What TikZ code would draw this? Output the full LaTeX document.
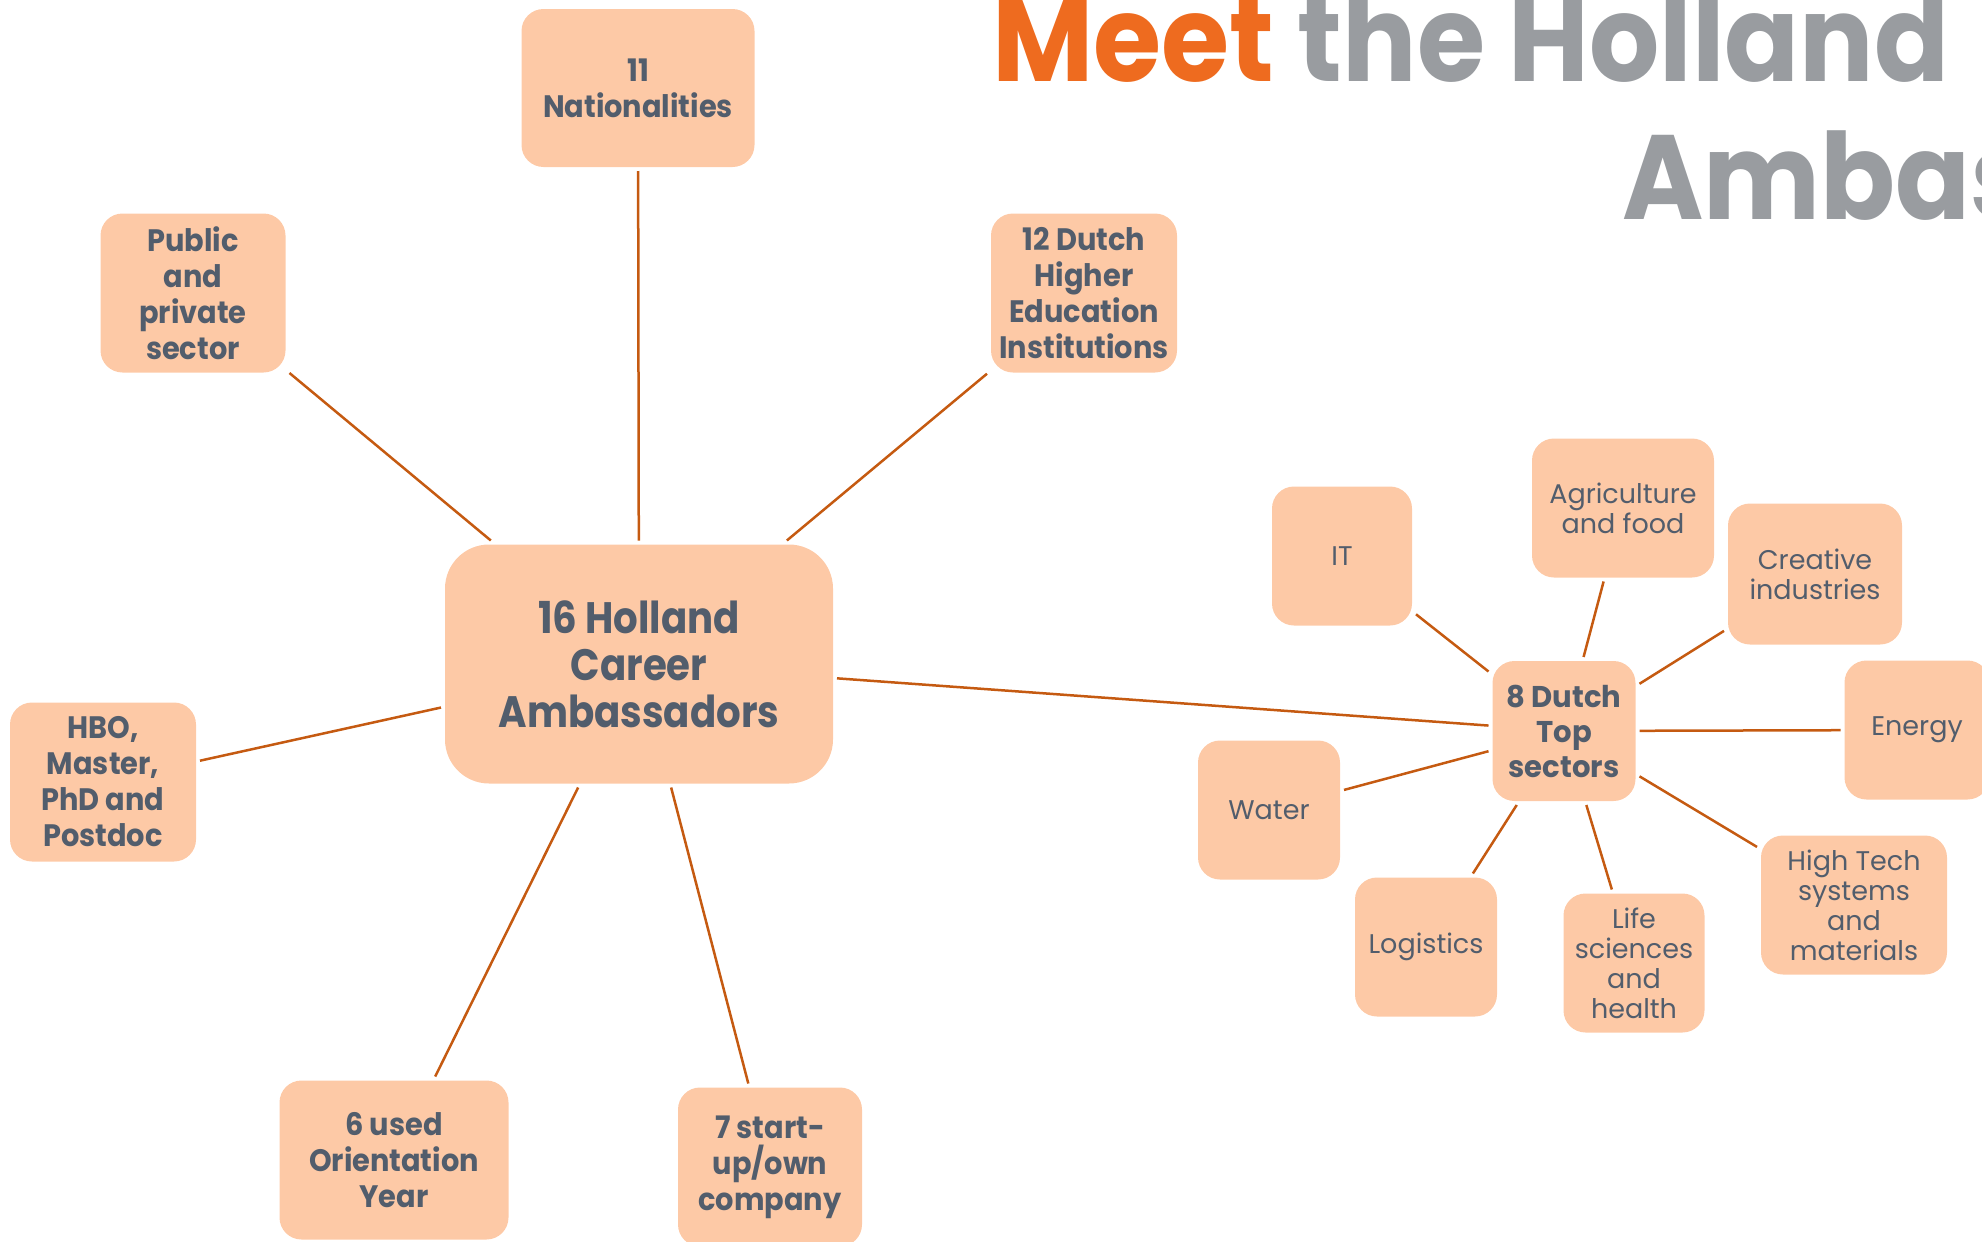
\documentclass[tikz,border=0pt]{standalone}
\usepackage{fontspec}
\setmainfont{Poppins}
\newfontfamily\fTitle[FakeStretch=0.92]{Poppins}
\newfontfamily\fCen[FakeStretch=0.88]{Poppins}
\newfontfamily\fBold[FakeStretch=0.93]{Poppins}
\newfontfamily\fBoldT[FakeStretch=0.97]{Poppins}
\newfontfamily\fReg[FakeStretch=1.0]{Poppins}
\definecolor{boxfill}{HTML}{FDC9A6}
\definecolor{txt}{HTML}{525D6C}
\definecolor{linec}{HTML}{C55A11}
\definecolor{torange}{HTML}{EE6B1F}
\definecolor{tgray}{HTML}{999CA0}
\begin{document}
\begin{tikzpicture}[x=0.5pt,y=-0.5pt,
  box/.style={fill=boxfill, rounded corners=11pt, inner sep=0pt, outer sep=2pt, align=center, text=txt},
  bbox/.style={box, font=\fBold\bfseries\fontsize{15.5}{18}\selectfont},
  rbox/.style={box, font=\fReg\fontsize{13.5}{15}\selectfont},
  link/.style={draw=linec, line width=1.25pt}]
\useasboundingbox (0,0) rectangle (1982,1242);
\clip (0,0) rectangle (1982,1242);
% title
\node[anchor=base west, inner sep=0pt, font=\fTitle\bfseries\fontsize{60}{60}\selectfont] (t1) at (992,81)
  {\textcolor{torange}{Meet} \textcolor{tgray}{the Holland}};
\node[anchor=base west, inner sep=0pt, font=\fTitle\bfseries\fontsize{60}{60}\selectfont, text=tgray] (t2) at (1622,219)
  {Ambassadors};
% left cluster
\node[box, rounded corners=22pt, minimum width=194pt, minimum height=119.5pt,
  font=\fCen\bfseries\fontsize{22}{23.5}\selectfont] (cen) at (639,664) {16 Holland\\Career\\Ambassadors};
\node[bbox, minimum width=116.5pt, minimum height=79pt] (nat) at (638,88) {11\\Nationalities};
\node[bbox, minimum width=92.5pt, minimum height=79.5pt] (pub) at (193,293) {Public\\and\\private\\sector};
\node[bbox, minimum width=93pt, minimum height=79.5pt] (hei) at (1084,293) {12 Dutch\\Higher\\Education\\Institutions};
\node[bbox, minimum width=93pt, minimum height=79.5pt] (hbo) at (103,782) {HBO,\\Master,\\PhD and\\Postdoc};
\node[bbox, minimum width=114.5pt, minimum height=79.5pt] (ori) at (394,1160) {6 used\\Orientation\\Year};
\node[bbox, minimum width=92pt, minimum height=79.5pt] (sta) at (770,1167) {7 start-\\up/own\\company};
% right cluster
\node[bbox, minimum width=71.5pt, minimum height=70pt, font=\fBoldT\bfseries\fontsize{15}{17.5}\selectfont] (top) at (1564,731) {8 Dutch\\Top\\sectors};
\node[rbox, minimum width=70pt, minimum height=69.5pt] (it) at (1342,556) {IT};
\node[rbox, minimum width=91pt, minimum height=69.5pt] (agr) at (1623,508) {Agriculture\\and food};
\node[rbox, minimum width=87pt, minimum height=70.5pt] (cre) at (1815,574) {Creative\\industries};
\node[rbox, minimum width=72.5pt, minimum height=69.5pt] (ene) at (1917,730) {Energy};
\node[rbox, minimum width=71pt, minimum height=69.5pt] (wat) at (1269,810) {Water};
\node[rbox, minimum width=71pt, minimum height=69.5pt] (log) at (1426,947) {Logistics};
\node[rbox, minimum width=70.5pt, minimum height=69.5pt] (lif) at (1634,963) {Life\\sciences\\and\\health};
\node[rbox, minimum width=93pt, minimum height=69.5pt] (hit) at (1854,905) {High Tech\\systems\\and\\materials};
% connectors
\draw[link] (cen) -- (nat);
\draw[link] (cen) -- (pub);
\draw[link] (cen) -- (hei);
\draw[link] (cen) -- (hbo);
\draw[link] (cen) -- (ori);
\draw[link] (cen) -- (sta);
\draw[link] (cen) -- (top);
\draw[link] (top) -- (it);
\draw[link] (top) -- (agr);
\draw[link] (top) -- (cre);
\draw[link] (top) -- (ene);
\draw[link] (top) -- (wat);
\draw[link] (top) -- (log);
\draw[link] (top) -- (lif);
\draw[link] (top) -- (hit);
\end{tikzpicture}
\end{document}
